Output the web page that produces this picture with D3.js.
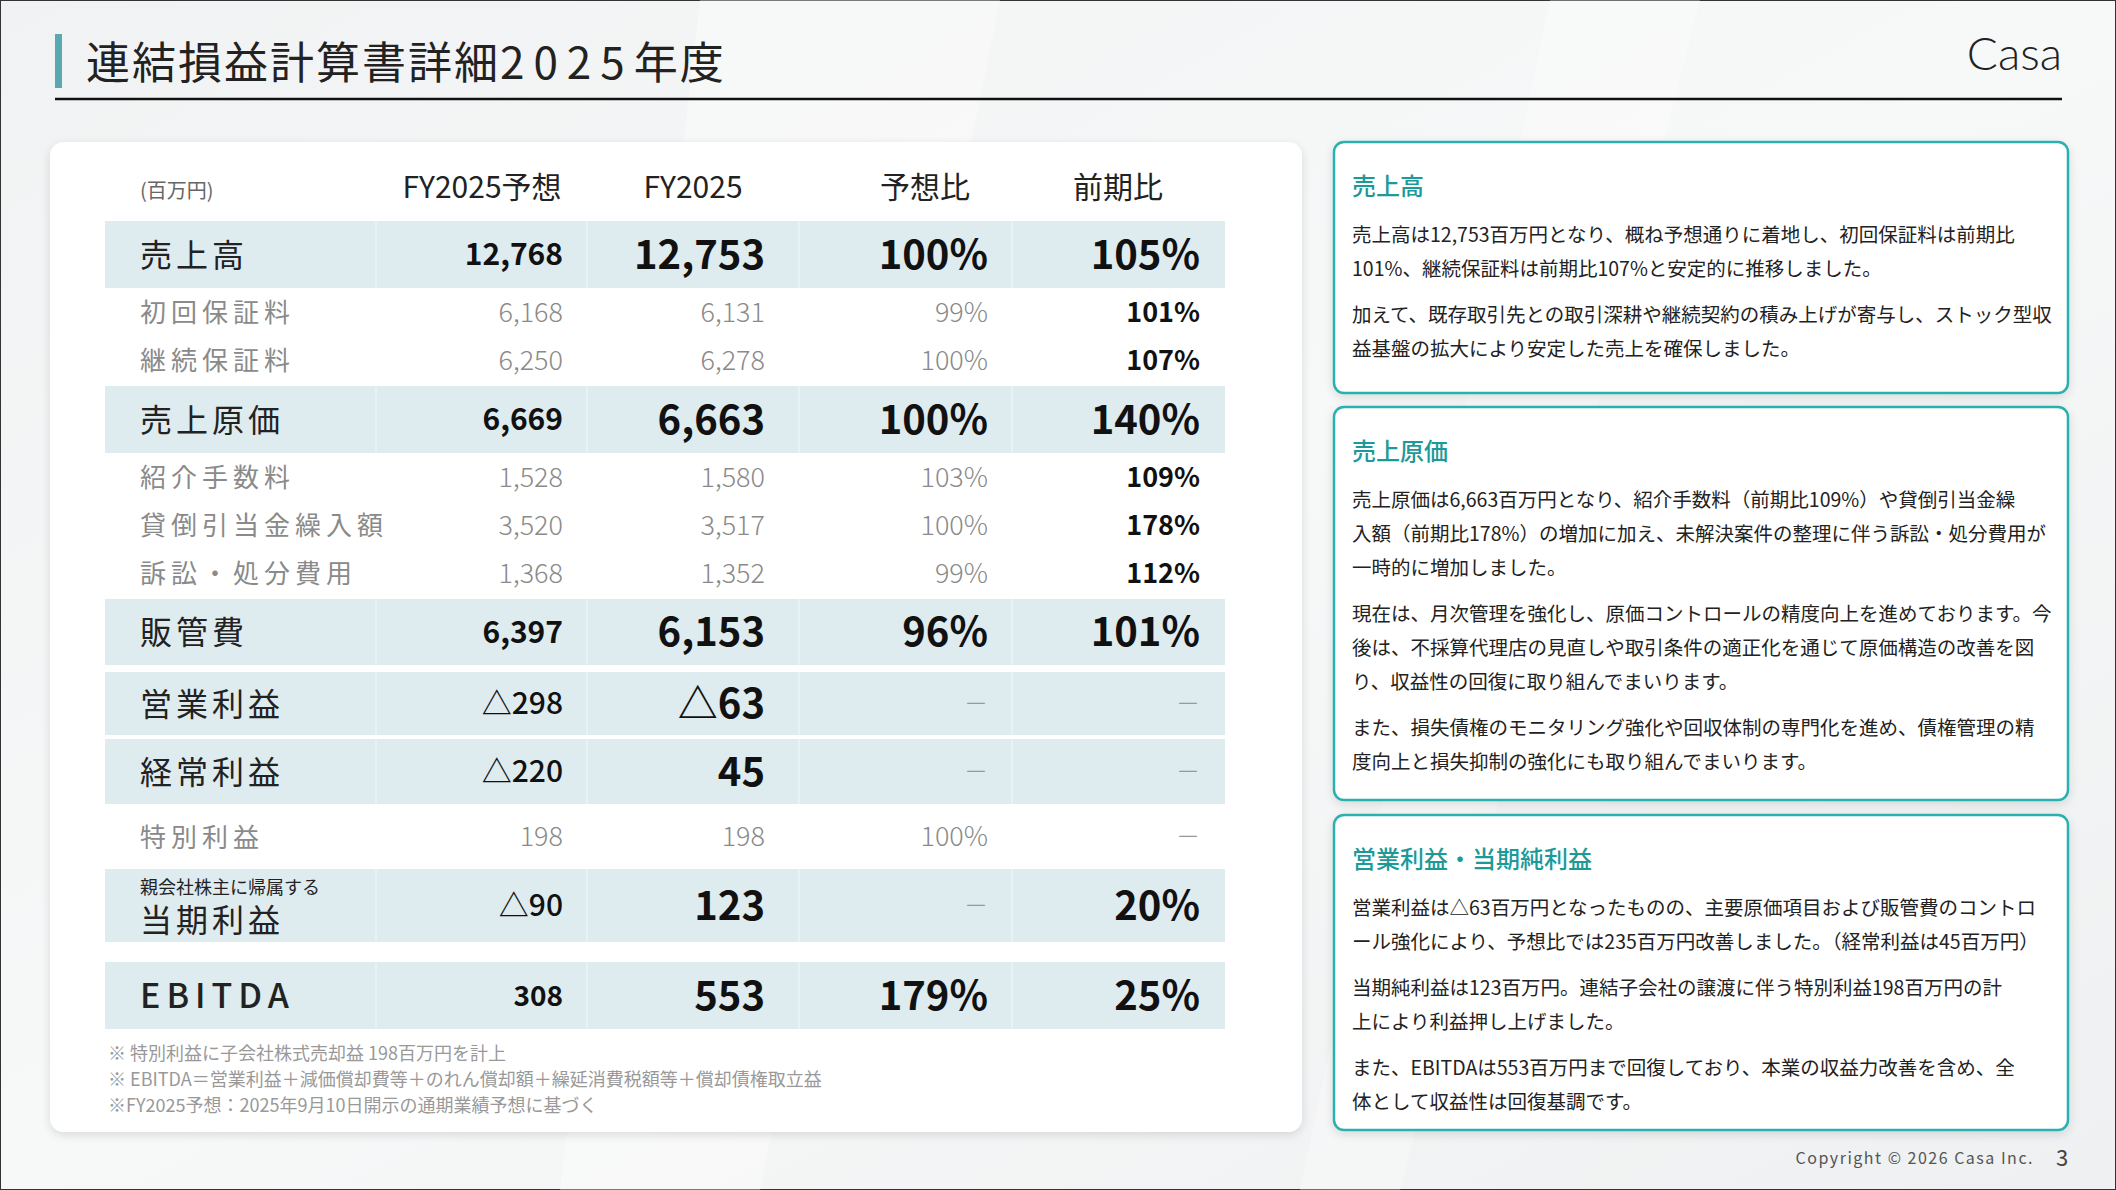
<!DOCTYPE html>
<html><head><meta charset="utf-8">
<script src="https://cdn.jsdelivr.net/npm/d3@7/dist/d3.min.js"></script>
<style>
html,body{margin:0;padding:0;background:#f4f5f6;}
svg{display:block;font-family:"Noto Sans CJK JP","Noto Sans",sans-serif;}
</style></head><body>
<svg id="c" width="2116" height="1190"></svg>
<script>
// ---- data ----
const labels = ["売上高","初回保証料","継続保証料","売上原価","紹介手数料","貸倒引当金繰入額","訴訟・処分費用","販管費","営業利益","経常利益","特別利益","当期利益","EBITDA"];
const rowKinds = ["main","sub","sub","main","sub","sub","sub","main","main","main","sub","main","main"];
const forecast = ["12,768","6,168","6,250","6,669","1,528","3,520","1,368","6,397","△298","△220","198","△90","308"];
const actual   = ["12,753","6,131","6,278","6,663","1,580","3,517","1,352","6,153","△63","45","198","123","553"];
const vsForecast = ["100%","99%","100%","100%","103%","100%","99%","96%","－","－","100%","－","179%"];
const yoy = ["105%","101%","107%","140%","109%","178%","112%","101%","－","－","－","20%","25%"];
const headers = ["(百万円)","FY2025予想","FY2025","予想比","前期比"];
const notes = ["※ 特別利益に子会社株式売却益 198百万円を計上","※ EBITDA＝営業利益＋減価償却費等＋のれん償却額＋繰延消費税額等＋償却債権取立益","※FY2025予想：2025年9月10日開示の通期業績予想に基づく"];
const panels = [
 {title:"売上高", paras:[["売上高は12,753百万円となり、概ね予想通りに着地し、初回保証料は前期比","101%、継続保証料は前期比107%と安定的に推移しました。"],["加えて、既存取引先との取引深耕や継続契約の積み上げが寄与し、ストック型収","益基盤の拡大により安定した売上を確保しました。"]]},
 {title:"売上原価", paras:[["売上原価は6,663百万円となり、紹介手数料（前期比109%）や貸倒引当金繰","入額（前期比178%）の増加に加え、未解決案件の整理に伴う訴訟・処分費用が","一時的に増加しました。"],["現在は、月次管理を強化し、原価コントロールの精度向上を進めております。今","後は、不採算代理店の見直しや取引条件の適正化を通じて原価構造の改善を図","り、収益性の回復に取り組んでまいります。"],["また、損失債権のモニタリング強化や回収体制の専門化を進め、債権管理の精","度向上と損失抑制の強化にも取り組んでまいります。"]]},
 {title:"営業利益・当期純利益", paras:[["営業利益は△63百万円となったものの、主要原価項目および販管費のコントロ","ール強化により、予想比では235百万円改善しました。（経常利益は45百万円）"],["当期純利益は123百万円。連結子会社の譲渡に伴う特別利益198百万円の計","上により利益押し上げました。"],["また、EBITDAは553百万円まで回復しており、本業の収益力改善を含め、全","体として収益性は回復基調です。"]]}
];
// ---- layout ----
const rowHeights = [67,48,48,67,48,48,48,66,63,65,65,73,67];
const rowGaps    = [0,0,0,2,0,0,0,2,7,4,0,0,20];
const svg = d3.select("#c");
const W=2116,H=1190;
const defs=svg.append("defs");
const f=defs.append("filter").attr("id","sh").attr("x","-5%").attr("y","-5%").attr("width","110%").attr("height","110%");
f.append("feDropShadow").attr("dx",0).attr("dy",3).attr("stdDeviation",5).attr("flood-color","#000").attr("flood-opacity",0.12);
const lg=defs.append("linearGradient").attr("id","bg").attr("x1",0).attr("y1",0).attr("x2",1).attr("y2",1);
lg.append("stop").attr("offset",0).attr("stop-color","#f1f2f3");
lg.append("stop").attr("offset",0.5).attr("stop-color","#f7f8f8");
lg.append("stop").attr("offset",1).attr("stop-color","#eef0f1");
svg.append("rect").attr("width",W).attr("height",H).attr("fill","url(#bg)").attr("stroke","#333").attr("stroke-width",2);
svg.append("path").attr("d","M700,0 L1000,0 L760,1190 L560,1190Z").attr("fill","#fff").attr("opacity",0.35);
svg.append("path").attr("d","M1550,0 L1700,0 L1400,1190 L1300,1190Z").attr("fill","#fff").attr("opacity",0.3);

// title
svg.append("rect").attr("x",55).attr("y",34).attr("width",7).attr("height",54).attr("fill","#5aa9b0");
const tt=svg.append("text").attr("x",86).attr("y",79).attr("font-size",44).attr("fill","#222").attr("letter-spacing",2);
tt.append("tspan").text("連結損益計算書詳細");
tt.append("tspan").attr("letter-spacing",9).text("2025");
tt.append("tspan").text("年度");
svg.append("line").attr("x1",55).attr("x2",2062).attr("y1",99).attr("y2",99).attr("stroke","#111").attr("stroke-width",2.5);
svg.append("text").attr("x",2062).attr("y",70).attr("text-anchor","end").attr("font-size",46).attr("font-family","Lato,'Noto Sans',sans-serif").attr("font-weight",300).attr("fill","#222").text("Casa");

// table card
svg.append("rect").attr("x",50).attr("y",142).attr("width",1252).attr("height",990).attr("rx",14).attr("fill","#fff").attr("filter","url(#sh)");
const colRight=[null,563,765,988,1200];
const colSep=[376,587,799,1012];
const tableX0=105,tableX1=1225;
const headerX=[140,482,693,925,1118];
headers.forEach((h,i)=>{
  svg.append("text").attr("x",headerX[i]).attr("y",198).attr("text-anchor",i?"middle":"start")
   .attr("font-size",i?30:20).attr("fill",i?"#222":"#666").text(h);
});
let yacc=221; const rowY=[];
rowHeights.forEach((h,i)=>{yacc+=rowGaps[i]; rowY.push(yacc); yacc+=h;});
const g=svg.append("g");
labels.forEach((lab,i)=>{
  const y=rowY[i],h=rowHeights[i],main=rowKinds[i]==="main";
  const cy=y+h/2;
  if(main){
    g.append("rect").attr("x",tableX0).attr("y",y).attr("width",tableX1-tableX0).attr("height",h).attr("fill","#deebef");
    colSep.forEach(x=>g.append("line").attr("x1",x).attr("x2",x).attr("y1",y).attr("y2",y+h).attr("stroke","#fff").attr("stroke-opacity",0.6));
  }
  const isEb = lab==="EBITDA";
  if(lab==="当期利益"){
    g.append("text").attr("x",140).attr("y",cy-12).attr("font-size",18).attr("fill","#222").text("親会社株主に帰属する");
    g.append("text").attr("x",140).attr("y",cy+26).attr("font-size",32).attr("letter-spacing",4).attr("fill","#222").text(lab);
  } else {
    g.append("text").attr("x",140).attr("y",cy+(main?12:10)).attr("font-size",main?(isEb?34:32):26)
     .attr("letter-spacing",main?(isEb?6:4):5).attr("font-weight",isEb?500:400).attr("fill",main?"#222":"#8a8a8a").text(lab);
  }
  const vals=[forecast[i],actual[i],vsForecast[i],yoy[i]];
  vals.forEach((v,j)=>{
    const dash=v==="－";
    let fs,fw,col;
    if(main){ fs=j===0?30:40; fw=700; col="#111"; if(j===0&&isEb) fs=28;}
    else { fs=27; fw=j===3?700:300; col=j===3?"#111":"#8a8a8a"; }
    if(dash){col="#999";fw=300;fs=24;}
    const t=g.append("text").attr("x",colRight[j+1]).attr("y",cy+fs*0.36).attr("text-anchor","end")
      .attr("font-size",fs).attr("font-weight",fw).attr("fill",col).text(v);
    if(main&&j===0&&(v.startsWith("△"))) t.attr("font-weight",500);
  });
});
notes.forEach((n,i)=>svg.append("text").attr("x",108).attr("y",1060+i*26).attr("font-size",18).attr("fill","#999").text(n));

// panels
const panelY=[142,407,815], panelH=[251,393,315];
const lineH=34, paraGap=12;
panels.forEach((p,k)=>{
  const x=1334,y=panelY[k],w=734,h=panelH[k];
  svg.append("rect").attr("x",x).attr("y",y).attr("width",w).attr("height",h).attr("rx",10).attr("fill","#fff").attr("stroke","#2bb0ae").attr("stroke-width",2.5).attr("filter","url(#sh)");
  svg.append("text").attr("x",x+18).attr("y",y+53).attr("font-size",24).attr("font-weight",500).attr("fill","#1b9a99").text(p.title);
  let ly=y+100;
  p.paras.forEach(par=>{
    par.forEach(line=>{svg.append("text").attr("x",x+18).attr("y",ly).attr("font-size",19.5).attr("fill","#222").text(line); ly+=lineH;});
    ly+=paraGap;
  });
});
// footer
svg.append("text").attr("x",2034).attr("y",1164).attr("text-anchor","end").attr("font-size",16).attr("letter-spacing",1.5).attr("fill","#555").text("Copyright © 2026 Casa Inc.");
svg.append("text").attr("x",2062).attr("y",1166).attr("text-anchor","middle").attr("font-size",22).attr("fill","#444").text("3");
</script></body></html>
